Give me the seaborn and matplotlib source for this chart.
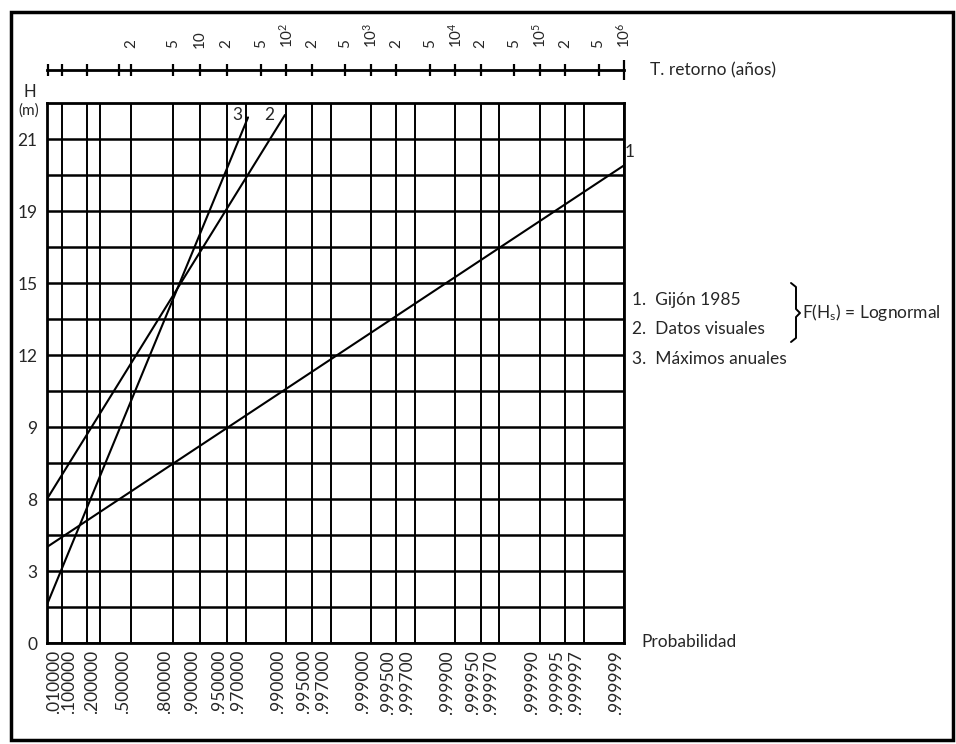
import numpy as np
import pandas as pd
import matplotlib
matplotlib.use("Agg")
import matplotlib.pyplot as plt
from matplotlib.lines import Line2D
from matplotlib.patches import Rectangle
from matplotlib.transforms import ScaledTranslation
import seaborn as sns

# --- fitted distributions: straight lines on extreme-value probability paper ---
curve_ids = ["1", "2", "3"]
p_start = [0.001, 0.001, 0.001]
p_end = [0.999999, 0.9896, 0.9718]
h_start = [4.0, 6.0, 1.6]
h_end = [19.9, 22.0, 21.9]

legend_lines = ["1.  Gijón 1985", "2.  Datos visuales", "3.  Máximos anuales"]

# --- bottom axis: non-exceedance probability ---
prob_ticks = [0.01, 0.1, 0.2, 0.5, 0.8, 0.9, 0.95, 0.97, 0.99, 0.995, 0.997,
              0.999, 0.9995, 0.9997, 0.9999, 0.99995, 0.99997, 0.99999,
              0.999995, 0.999997, 0.999999]
prob_labels = [".010000", ".100000", ".200000", ".500000", ".800000", ".900000",
               ".950000", ".970000", ".990000", ".995000", ".997000", ".999000",
               ".999500", ".999700", ".999900", ".999950", ".999970", ".999990",
               ".999995", ".999997", ".999999"]

# --- top axis: return period (years) ---
return_ticks = [1.0012, 1.0101, 1.111, 1.6, 2, 5, 10, 20, 50, 100, 200, 500,
                1e3, 2e3, 5e3, 1e4, 2e4, 5e4, 1e5, 2e5, 5e5, 1e6]
return_labels = ["", "", "", "", "2", "5", "10", "2", "5", r"$\mathregular{10^2}$",
                 "2", "5", r"$\mathregular{10^3}$", "2", "5", r"$\mathregular{10^4}$",
                 "2", "5", r"$\mathregular{10^5}$", "2", "5", r"$\mathregular{10^6}$"]

# --- vertical axis: wave height H (m) ---
h_ticks = [0, 3, 6, 9, 12, 15, 18, 21]
h_labels = ["0", "3", "8", "9", "12", "15", "19", "21"]
h_minor = [1.5, 4.5, 7.5, 10.5, 13.5, 16.5, 19.5]


def gumbel(p):
    p = np.clip(np.asarray(p, dtype=float), 1e-300, 1 - 1e-15)
    return -np.log(-np.log(p))


def gumbel_inv(g):
    return np.exp(-np.exp(-np.asarray(g, dtype=float)))


sns.set_theme(style="white")
plt.rcParams["font.family"] = ["Lato", "DejaVu Sans"]
plt.rcParams["mathtext.fontset"] = "custom"
plt.rcParams["mathtext.rm"] = "Lato"
plt.rcParams["mathtext.it"] = "Lato:italic"

W, H = 956, 744
fig = plt.figure(figsize=(W / 100, H / 100), dpi=100)
fig.patch.set_facecolor("white")


def fx(px):
    return px / W


def fy(py):
    return 1 - py / H


ax = fig.add_axes([fx(47), fy(643), fx(624) - fx(47), fy(103) - fy(643)])
ax.set_facecolor("white")

rows = []
for cid, p0, p1, h0, h1 in zip(curve_ids, p_start, p_end, h_start, h_end):
    rows.append({"curve": cid, "p": p0, "H": h0})
    rows.append({"curve": cid, "p": p1, "H": h1})
df = pd.DataFrame(rows)

sns.lineplot(data=df, x="p", y="H", units="curve", estimator=None,
             color="black", linewidth=1.5, ax=ax, legend=False, zorder=4)

ax.set_xscale("function", functions=(gumbel, gumbel_inv))
ax.set_xlim(0.001, 0.999999)
ax.set_ylim(0, 22.5)

ax.set_xticks(prob_ticks)
ax.set_xticklabels(prob_labels, rotation=90, ha="right", va="top", fontsize=12.5)
ax.xaxis.set_minor_locator(matplotlib.ticker.NullLocator())
ax.set_yticks(h_ticks)
ax.set_yticklabels(h_labels, fontsize=12.5)
ax.set_yticks(h_minor, minor=True)
ax.tick_params(axis="x", which="both", length=0, pad=5)
ax.tick_params(axis="y", which="both", length=0, pad=7)
ax.set_xlabel("")
ax.set_ylabel("")

# the .100000 label sits a little to the left of its line, clear of .200000
crowded = ax.xaxis.get_major_ticks()[1].label1
crowded.set_transform(crowded.get_transform()
                      + ScaledTranslation(-7 / 72, 0, fig.dpi_scale_trans))

ax.grid(True, axis="x", which="major", color="black", linewidth=1.4)
ax.grid(True, axis="y", which="both", color="black", linewidth=1.8)
ax.set_axisbelow(True)
for s in ax.spines.values():
    s.set_visible(True)
    s.set_color("black")
    s.set_linewidth(2)

# curve numbers beside the upper ends of the lines
offsets = {"1": (4, 10), "2": (-11, 0), "3": (-8, 2)}
for cid, p1, h1 in zip(curve_ids, p_end, h_end):
    ax.annotate(cid, xy=(p1, h1), xytext=offsets[cid], textcoords="offset points",
                ha="center", va="center", fontsize=12.5, annotation_clip=False)

# return-period scale drawn as a separate line above the grid
ax_top = ax.twiny()
ax_top.set_xscale("function", functions=(gumbel, gumbel_inv))
ax_top.set_xlim(ax.get_xlim())
ax_top.set_xticks([1 - 1 / t for t in return_ticks])
ax_top.set_xticklabels(return_labels, fontsize=11.5)
ax_top.xaxis.set_minor_locator(matplotlib.ticker.NullLocator())
ax_top.tick_params(axis="x", which="major", direction="inout", length=9,
                   width=1.6, color="black", pad=11, top=True, bottom=False,
                   labeltop=True, labelbottom=False, labelrotation=90)
for tick in ax_top.xaxis.get_major_ticks():
    tick.label2.set_rotation(90)
    tick.label2.set_ha("center")
    tick.label2.set_va("bottom")
for name, s in ax_top.spines.items():
    s.set_visible(name == "top")
ax_top.spines["top"].set_position(("outward", 23.8))
ax_top.spines["top"].set_linewidth(2)
ax_top.spines["top"].set_color("black")
ax_top.grid(False)
end_tick = ax_top.xaxis.get_major_ticks()[-1]
end_tick.tick2line.set_markersize(15)

# axis titles and annotations
fig.text(fx(30), fy(92), "H", ha="center", va="center", fontsize=12)
fig.text(fx(29), fy(111), "(m)", ha="center", va="center", fontsize=11)
fig.text(fx(650), fy(70), "T. retorno (años)", ha="left", va="center", fontsize=12.5)
fig.text(fx(641), fy(642), "Probabilidad", ha="left", va="center", fontsize=12.5)

for i, txt in enumerate(legend_lines):
    fig.text(fx(632), fy(300 + 29.5 * i), txt, ha="left", va="center", fontsize=12.5)

# brace grouping the first two entries
bx = 796
brace = [(fx(bx - 5), fy(283)), (fx(bx), fy(287)), (fx(bx), fy(309)),
         (fx(bx + 4), fy(313)), (fx(bx), fy(317)), (fx(bx), fy(338)),
         (fx(bx - 5), fy(342))]
fig.add_artist(Line2D([q[0] for q in brace], [q[1] for q in brace],
                      transform=fig.transFigure, color="black", linewidth=1.4))
fig.text(fx(802), fy(313), r"F(H$_{\mathregular{s}}$) = Lognormal", ha="left",
         va="center", fontsize=12.5)

# outer frame
fig.add_artist(Rectangle((fx(11), fy(740)), fx(953) - fx(11), fy(12) - fy(740),
                         transform=fig.transFigure, fill=False,
                         edgecolor="black", linewidth=2.5))

fig.savefig("out.png", dpi=100, facecolor="white")
